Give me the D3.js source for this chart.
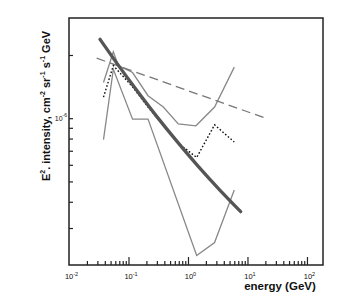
<!DOCTYPE html>
<html>
<head>
<meta charset="utf-8">
<script src="https://cdn.jsdelivr.net/npm/d3@7"></script>
<style>
html,body{margin:0;padding:0;background:#fff;}
svg{display:block;}
text{font-family:"Liberation Sans",Arial,sans-serif;}
</style>
</head>
<body>
<svg id="chart" width="349" height="298"></svg>
<script>
// ---- data ----
const thickE   = [0.0332, 0.0573, 0.1296, 0.293, 0.664, 1.50, 3.40, 7.69];
const thickI   = [2.375e-6, 1.905e-6, 1.388e-6, 1.026e-6, 7.71e-7, 5.88e-7, 4.56e-7, 3.59e-7];

const dashE    = [0.0292, 20.2];
const dashI    = [1.93e-6, 1.0e-6];

const upperE   = [0.038, 0.0556, 0.0675, 0.117, 0.213, 0.385, 0.687, 1.36, 2.8, 6.0];
const upperI   = [1.48e-6, 2.07e-6, 1.78e-6, 1.65e-6, 1.28e-6, 1.13e-6, 9.4e-7, 9.2e-7, 1.13e-6, 1.75e-6];

const lowerE   = [0.038, 0.0556, 0.117, 0.213, 1.4, 2.8, 6.0];
const lowerI   = [7.9e-7, 1.71e-6, 9.9e-7, 9.9e-7, 2.22e-7, 2.56e-7, 4.55e-7];

const dottedE  = [0.038, 0.0556, 0.117, 0.213, 0.69, 1.4, 2.8, 6.0];
const dottedI  = [1.26e-6, 1.78e-6, 1.41e-6, 1.13e-6, 7.6e-7, 6.5e-7, 9.3e-7, 7.7e-7];

const xTickExps   = [-2, -1, 0, 1, 2];
const yMinorTicks = [3e-7, 4e-7, 5e-7, 6e-7, 7e-7, 8e-7, 9e-7, 1e-6, 2e-6];
const yLabelTicks = [1e-6];
const yLabelExps  = [-6];

// ---- layout ----
const svg = d3.select("#chart");
const L = 69, R = 323, T = 18, B = 265;

const x = d3.scaleLog().domain([0.01, 186]).range([L, R]);
const y = d3.scaleLog().domain([2e-7, 3e-6]).range([B, T]);

const zip = (a, b) => a.map((v, i) => [v, b[i]]);
const line = d3.line().x(d => x(d[0])).y(d => y(d[1]));

// x minor / major ticks
const xMinor = [];
xTickExps.forEach(e => { for (let k = 2; k <= 9; k++) { const v = k * Math.pow(10, e); if (v < 186) xMinor.push(v); } });
const xMajor = xTickExps.map(e => Math.pow(10, e));

const gxMinor = svg.append("g").attr("transform", `translate(0,${B})`)
  .call(d3.axisBottom(x).tickValues(xMinor).tickSize(-4).tickFormat(() => ""));
const gxMajor = svg.append("g").attr("transform", `translate(0,${B})`)
  .call(d3.axisBottom(x).tickValues(xMajor).tickSize(-8).tickFormat(() => ""));
[gxMinor, gxMajor].forEach(g => {
  g.select(".domain").remove();
  g.selectAll("line").attr("stroke", "#222").attr("stroke-width", 1.2);
});
gxMajor.selectAll(".tick line").filter(d => d <= 0.01).remove();

// x tick labels with superscripts
gxMajor.selectAll(".tick text").each(function(d, i) {
  const t = d3.select(this)
    .attr("y", 14).attr("dy", 0).attr("x", 2)
    .attr("fill", "#111").attr("font-size", 7.5).attr("text-anchor", "middle");
  t.append("tspan").text("10");
  t.append("tspan").attr("font-size", 5.5).attr("dy", -3.5).text(xTickExps[i]);
});

// y ticks
const gy = svg.append("g").attr("transform", `translate(${L},0)`)
  .call(d3.axisLeft(y).tickValues(yMinorTicks).tickSize(-4).tickFormat(() => ""));
gy.select(".domain").remove();
gy.selectAll("line").attr("stroke", "#222").attr("stroke-width", 1.2);

// y tick labels
yLabelTicks.forEach((v, i) => {
  const t = svg.append("text")
    .attr("x", L - 2).attr("y", y(v) + 2.5)
    .attr("text-anchor", "end").attr("font-size", 7).attr("fill", "#111");
  t.append("tspan").text("10");
  t.append("tspan").attr("font-size", 5).attr("dy", -3.5).text(yLabelExps[i]);
});

// frame
svg.append("rect").attr("x", L).attr("y", T).attr("width", R - L).attr("height", B - T)
  .attr("fill", "none").attr("stroke", "#222").attr("stroke-width", 1.5);

// data lines
svg.append("path").datum(zip(upperE, upperI)).attr("d", line)
  .attr("fill", "none").attr("stroke", "#888").attr("stroke-width", 1.3);
svg.append("path").datum(zip(lowerE, lowerI)).attr("d", line)
  .attr("fill", "none").attr("stroke", "#888").attr("stroke-width", 1.3);
svg.append("path").datum(zip(dashE, dashI)).attr("d", line)
  .attr("fill", "none").attr("stroke", "#777").attr("stroke-width", 1.3)
  .attr("stroke-dasharray", "9,5");
svg.append("path").datum(zip(dottedE, dottedI)).attr("d", line)
  .attr("fill", "none").attr("stroke", "#111").attr("stroke-width", 1.4)
  .attr("stroke-dasharray", "1.6,2");
svg.append("path").datum(zip(thickE, thickI))
  .attr("d", line.curve(d3.curveMonotoneX))
  .attr("fill", "none").attr("stroke", "#555").attr("stroke-width", 3.3)
  .attr("stroke-linecap", "round");

// axis titles
svg.append("text").attr("x", 280).attr("y", 290).attr("text-anchor", "middle")
  .attr("font-size", 11.5).attr("font-weight", "bold").attr("fill", "#111")
  .text("energy (GeV)");

const yt = svg.append("text")
  .attr("transform", "translate(50,106) rotate(-90)")
  .attr("text-anchor", "middle").attr("font-size", 11).attr("font-weight", "bold").attr("fill", "#111");
yt.append("tspan").text("E");
yt.append("tspan").attr("font-size", 7).attr("dy", -5).text("2");
yt.append("tspan").attr("dy", 5).text(". intensity, cm");
yt.append("tspan").attr("font-size", 7).attr("dy", -5).text("-2");
yt.append("tspan").attr("dy", 5).text(" sr");
yt.append("tspan").attr("font-size", 7).attr("dy", -5).text("-1");
yt.append("tspan").attr("dy", 5).text(" s");
yt.append("tspan").attr("font-size", 7).attr("dy", -5).text("-1");
yt.append("tspan").attr("dy", 5).text(" GeV");
</script>
</body>
</html>
